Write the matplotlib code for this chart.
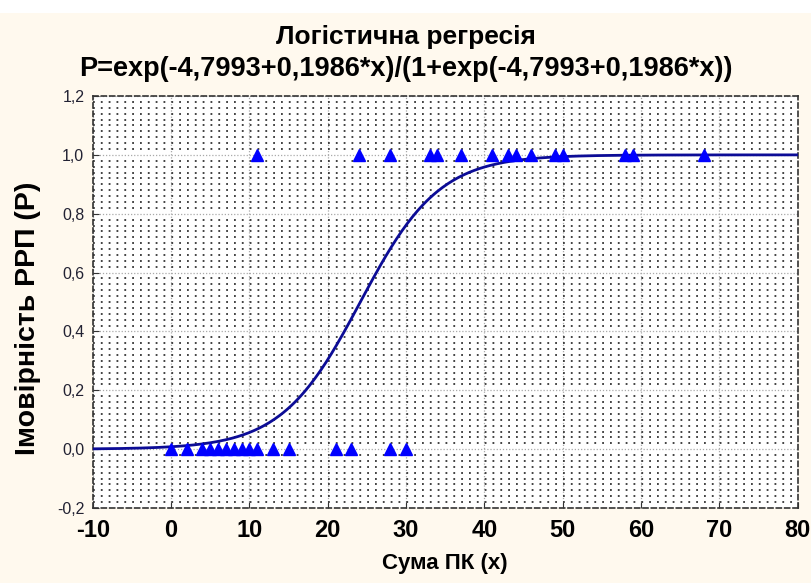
import numpy as np
import matplotlib.pyplot as plt
from matplotlib.ticker import MultipleLocator, FuncFormatter

plt.rcParams['font.family'] = ['Liberation Sans', 'DejaVu Sans']
plt.rcParams['axes.unicode_minus'] = False

# model coefficients
B0 = -4.7993
B1 = 0.1986

# observed cases: x value of cases with P=0 and P=1
x_zero = [0, 2, 4, 5, 6, 7, 8, 9, 10, 11, 13, 15, 21, 23, 28, 30]
x_one = [11, 24, 28, 33, 34, 37, 41, 43, 44, 46, 49, 50, 58, 59, 68]

x_ticks = [-10, 0, 10, 20, 30, 40, 50, 60, 70, 80]
y_ticks = [-0.2, 0.0, 0.2, 0.4, 0.6, 0.8, 1.0, 1.2]

xs = np.linspace(-10, 80, 400)
p = np.exp(B0 + B1 * xs) / (1 + np.exp(B0 + B1 * xs))

fig = plt.figure(figsize=(8.11, 5.83), dpi=100, facecolor='#FFF9EE')
fig.patches.append(plt.Rectangle((0, 1 - 13 / 583), 1, 13 / 583, transform=fig.transFigure,
                                 facecolor='white', edgecolor='none'))
ax = fig.add_axes([0.1143, 0.1286, 0.8693, 0.7067])
ax.set_facecolor('white')

ax.plot(xs, p, color='#0C0C96', lw=2, zorder=3)
ax.plot(x_zero, np.zeros(len(x_zero)), '^', color='#0000FF', ms=8, mec='#0000FF', zorder=4, clip_on=False)
ax.plot(x_one, np.ones(len(x_one)), '^', color='#0000FF', ms=8, mec='#0000FF', zorder=4, clip_on=False)

ax.set_xlim(-10, 80)
ax.set_ylim(-0.2, 1.2)
ax.set_xticks(x_ticks)
ax.set_yticks(y_ticks)
ax.yaxis.set_minor_locator(MultipleLocator(0.02))
ax.yaxis.set_major_formatter(FuncFormatter(lambda v, _: f'{v:.1f}'.replace('.', ',').replace('-0,0', '0,0')))

# dot lattice: horizontal minor lines, one dot per x unit
px_per_unit = ax.get_position().width * 811 / 90
period_pt = px_per_unit * 72 / 100
lw_dot = 1.3
ax.grid(which='minor', axis='y', color='#333333', lw=lw_dot,
        linestyle=(0, (1.0, period_pt / lw_dot - 1.0)))
ax.grid(which='major', color='#AAAAAA', linestyle=(0, (1, 1.5)), lw=0.9)
ax.set_axisbelow(True)

for s in ax.spines.values():
    s.set_linestyle((0, (3, 2)))
    s.set_color('#333333')
    s.set_linewidth(1.2)

ax.tick_params(which='minor', length=0)
ax.tick_params(which='major', direction='in', length=4, color='#333333')
ax.tick_params(axis='x', labelsize=17, pad=8)
ax.tick_params(axis='y', labelsize=11.5, pad=6, labelcolor='#222233')
for t in ax.get_xticklabels():
    t.set_fontweight('bold')

ax.set_xlabel('Сума ПК (х)', fontsize=16, fontweight='bold', labelpad=8)
ax.set_ylabel('Імовірність РРП (Р)', fontsize=20.5, fontweight='bold')
ax.yaxis.set_label_coords(-0.073, 0.46)

fig.text(0.5, 1 - 37 / 583, 'Логістична регресія', ha='center', va='center', fontsize=19, fontweight='bold')
fig.text(0.5, 1 - 69 / 583, 'P=exp(-4,7993+0,1986*x)/(1+exp(-4,7993+0,1986*x))',
         ha='center', va='center', fontsize=19.5, fontweight='bold')

fig.savefig('out.png', dpi=100, facecolor=fig.get_facecolor())
